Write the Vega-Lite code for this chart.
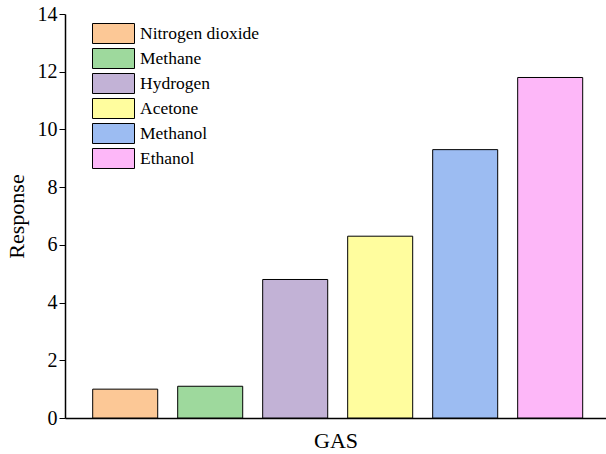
{
  "$schema": "https://vega.github.io/schema/vega-lite/v6.json",
  "autosize": {"type": "none"},
  "padding": {"left": 65, "top": 14, "right": 0, "bottom": 36},
  "width": 541,
  "height": 404,
  "background": "white",
  "config": {
    "view": {"stroke": null},
    "font": "'Liberation Serif', 'Times New Roman', serif"
  },
  "data": {
    "values": [
      {"gas": "Nitrogen dioxide", "response": 1.0},
      {"gas": "Methane", "response": 1.1},
      {"gas": "Hydrogen", "response": 4.8},
      {"gas": "Acetone", "response": 6.3},
      {"gas": "Methanol", "response": 9.3},
      {"gas": "Ethanol", "response": 11.8}
    ]
  },
  "mark": {"type": "bar", "stroke": "black", "strokeWidth": 1, "opacity": 1},
  "encoding": {
    "x": {
      "field": "gas",
      "type": "nominal",
      "sort": null,
      "scale": {"paddingInner": 0.235, "paddingOuter": 0.3, "align": 0.543},
      "axis": {
        "title": "GAS",
        "labels": false,
        "ticks": false,
        "domainColor": "black",
        "domainWidth": 1.5,
        "titleFont": "'Liberation Serif', 'Times New Roman', serif",
        "titleFontSize": 22,
        "titleFontWeight": "normal",
        "titleColor": "black",
        "titlePadding": 12
      }
    },
    "y": {
      "field": "response",
      "type": "quantitative",
      "scale": {"domain": [0, 14], "nice": false},
      "axis": {
        "title": "Response",
        "values": [0, 2, 4, 6, 8, 10, 12, 14],
        "grid": false,
        "domainColor": "black",
        "domainWidth": 1.5,
        "tickColor": "black",
        "tickSize": 6,
        "tickWidth": 1,
        "labelFont": "'Liberation Serif', 'Times New Roman', serif",
        "labelFontSize": 20,
        "labelColor": "black",
        "labelPadding": 2,
        "titleFont": "'Liberation Serif', 'Times New Roman', serif",
        "titleFontSize": 22,
        "titleFontWeight": "normal",
        "titleColor": "black",
        "titlePadding": 9
      }
    },
    "color": {
      "field": "gas",
      "type": "nominal",
      "sort": null,
      "scale": {
        "domain": ["Nitrogen dioxide", "Methane", "Hydrogen", "Acetone", "Methanol", "Ethanol"],
        "range": ["#FCC896", "#9ED99D", "#C2B2D6", "#FFFD9E", "#9CBCF2", "#FDB7F8"]
      },
      "legend": {
        "title": null,
        "orient": "none",
        "legendX": 38,
        "legendY": 9,
        "padding": 0,
        "symbolType": "M-2.1,-1H2.1V1H-2.1Z",
        "symbolSize": 400,
        "symbolStrokeColor": "black",
        "symbolStrokeWidth": 1,
        "symbolOpacity": 1,
        "symbolOffset": 0,
        "labelFont": "'Liberation Serif', 'Times New Roman', serif",
        "labelFontSize": 17.5,
        "labelColor": "black",
        "labelOffset": 16,
        "rowPadding": 0
      }
    }
  }
}
